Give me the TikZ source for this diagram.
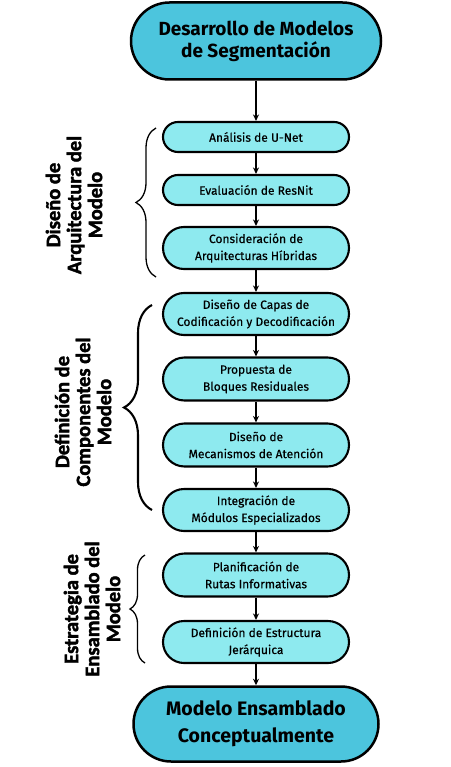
\documentclass[tikz,border=0pt]{standalone}
\usepackage{fontspec}
\setmainfont{Fira Sans}
\newfontfamily\boxfont[FakeBold=0.5]{Fira Sans}
\newfontfamily\sidefont[FakeBold=2]{Carlito}
\usetikzlibrary{shapes.misc,decorations.pathreplacing,arrows.meta}
\definecolor{darkc}{HTML}{4CC5DD}
\definecolor{lightc}{HTML}{8EEAEF}
\begin{document}
\begin{tikzpicture}[x=1pt,y=-1pt,
  box/.style={rounded rectangle, draw=black, line width=2.1pt, fill=lightc,
    minimum width=186pt, inner sep=0pt, align=center,
    font=\boxfont\fontsize{12}{17}\selectfont},
  bigbox/.style={rounded rectangle, draw=black, line width=2.5pt, fill=darkc,
    inner sep=0pt, align=center},
  arr/.style={-{Stealth[length=6.5pt,width=6pt]}, line width=1.6pt, black},
  brc/.style={decorate, line width=1.3pt},
  side/.style={rotate=90, align=center, font=\sidefont\bfseries\fontsize{20.5}{21}\selectfont}
]
\useasboundingbox (0,0) rectangle (450,767);

\node[bigbox, minimum width=250pt, minimum height=77pt, font=\bfseries\fontsize{19}{22}\selectfont] (top) at (256,41) {Desarrollo de Modelos\\de Segmentación};

\node[box, minimum height=30pt] (n1) at (256,137) {Análisis de U-Net};
\node[box, minimum height=30pt] (n2) at (256,190) {Evaluación de ResNit};
\node[box, minimum height=42pt] (n3) at (256,248) {Consideración de\\Arquitecturas Híbridas};
\node[box, minimum height=42pt] (n4) at (256,314) {Diseño de Capas de\\Codificación y Decodificación};
\node[box, minimum height=43pt] (n5) at (256,379) {Propuesta de\\Bloques Residuales};
\node[box, minimum height=43pt] (n6) at (256,445) {Diseño de\\Mecanismos de Atención};
\node[box, minimum height=42pt] (n7) at (256,510) {Integración de\\Módulos Especializados};
\node[box, minimum height=43pt] (n8) at (256,575) {Planificación de\\Rutas Informativas};
\node[box, minimum height=42pt] (n9) at (256,642) {Definición de Estructura\\Jerárquica};

\node[bigbox, minimum width=245pt, minimum height=75pt, font=\bfseries\fontsize{19.5}{27}\selectfont] (bot) at (256,724) {Modelo Ensamblado\\Conceptualmente};

\draw[arr] (top.south) -- (n1.north);
\draw[arr] (n1.south) -- (n2.north);
\draw[arr] (n2.south) -- (n3.north);
\draw[arr] (n3.south) -- (n4.north);
\draw[arr] (n4.south) -- (n5.north);
\draw[arr] (n5.south) -- (n6.north);
\draw[arr] (n6.south) -- (n7.north);
\draw[arr] (n7.south) -- (n8.north);
\draw[arr] (n8.south) -- (n9.north);
\draw[arr] (n9.south) -- (bot.north);

\coordinate (b1a) at (156,277);
\coordinate (b1b) at (156,128);
\coordinate (b2a) at (152,510);
\coordinate (b2b) at (152,305);
\coordinate (b3a) at (145,663);
\coordinate (b3b) at (145,555);
\draw[brc, decoration={brace, amplitude=20pt}] (b1a) -- (b1b);
\draw[brc, line width=2.1pt, decoration={brace, amplitude=28pt}] (b2a) -- (b2b);
\draw[brc, decoration={brace, amplitude=15pt}] (b3a) -- (b3b);

\node[side] (l1) at (74,205) {Diseño de\\Arquitectura del\\Modelo};
\node[side] (l2) at (83,412) {Definición de\\Componentes del\\Modelo};
\node[side] (l3) at (92,609) {Estrategia de\\Ensamblado del\\Modelo};
\end{tikzpicture}
\end{document}
